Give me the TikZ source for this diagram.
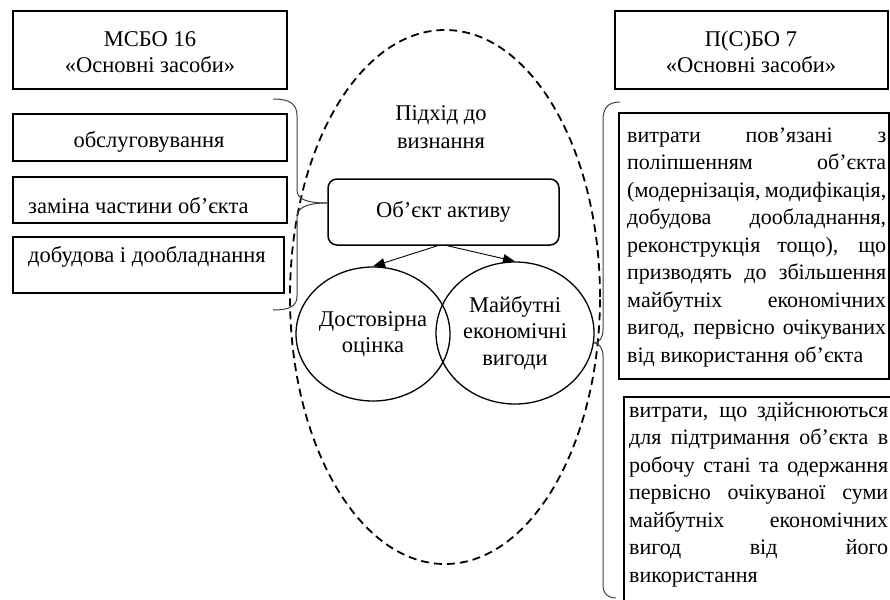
\documentclass[tikz,border=0pt]{standalone}
\usepackage{fontspec}
\setmainfont{Liberation Serif}
\usetikzlibrary{shapes.geometric,arrows.meta}
% one justified line of a fixed-width text block
\newcommand\jline[1]{\hbox to \hsize{#1}}
\begin{document}
\begin{tikzpicture}[x=1pt,y=-1pt,
  box/.style={draw, line width=1.5pt, inner sep=0pt},
  txt/.style={inner sep=0pt, anchor=base, font=\fontsize{22.5}{27.5}\selectfont},
  para/.style={inner sep=0pt, anchor=base west, font=\fontsize{22}{27.5}\selectfont},
  oval/.style={draw, ellipse, line width=1.3pt, inner sep=0pt, align=center,
    font=\fontsize{22.5}{26.5}\selectfont},
  zone/.style={draw, ellipse, line width=1.8pt, dash pattern=on 8pt off 5pt, inner sep=0pt},
  brace/.style={draw=black!75, line width=1pt},
  arr/.style={line width=0.9pt, -{Triangle[length=12pt,width=9pt]}},
]
\useasboundingbox (0,0) rectangle (890,599);

% recognition area
\node[zone, minimum width=310pt, minimum height=534pt] (zone) at (445,297) {};
\node[txt] (zt1) at (441,121) {Підхід до};
\node[txt] (zt2) at (441,148) {визнання};

% IAS 16 side
\node[box, minimum width=274pt, minimum height=78pt] (msbo) at (150,50) {};
\node[txt] (msbo1) at (150,47) {МСБО 16};
\node[txt] (msbo2) at (150,73) {«Основні засоби»};

\node[box, minimum width=274pt, minimum height=47pt] (l1) at (150,137.5) {};
\node[txt] (l1t) at (149,147) {обслуговування};
\node[box, minimum width=274pt, minimum height=46pt] (l2) at (150,200) {};
\node[txt, anchor=base west] (l2t) at (28,213) {заміна частини об’єкта};
\node[box, minimum width=271pt, minimum height=56pt] (l3) at (148.5,265) {};
\node[txt, anchor=base west] (l3t) at (28,262) {добудова і дообладнання};

% central object and its criteria
\node[box, rounded corners=9pt, minimum width=231pt, minimum height=66pt,
  font=\fontsize{22.5}{26.5}\selectfont] (obj) at (443.5,212) {Об’єкт активу};
\node[oval, minimum width=154pt, minimum height=134pt] (dost) at (373,334)
  {Достовірна\\оцінка};
\node[oval, minimum width=158pt, minimum height=142pt] (maib) at (515,333)
  {Майбутні\\економічні\\вигоди};
\draw[arr] ([xshift=-6pt]obj.south) -- (dost.north);
\draw[arr] ([xshift=4pt]obj.south) -- (maib.north);

% national standard side
\node[box, minimum width=273pt, minimum height=78pt] (psbo) at (751.5,50) {};
\node[txt] (psbo1) at (751,47) {П(С)БО 7};
\node[txt] (psbo2) at (751,73) {«Основні засоби»};

\node[box, minimum width=270pt, minimum height=266pt] (r1) at (754,246) {};
\node[para] (r1t) at (627,142) {\parbox[t]{259pt}{%
  \jline{витрати пов’язані з}
  \jline{поліпшенням об’єкта}
  \jline{(модернізація, модифікація,}
  \jline{добудова дообладнання,}
  \jline{реконструкція тощо), що}
  \jline{призводять до збільшення}
  \jline{майбутніх економічних}
  \jline{вигод, первісно очікуваних}
  \hbox{від використання об’єкта}}};

\node[box, minimum width=268pt, minimum height=240pt] (r2) at (758,517) {};
\node[para] (r2t) at (629,417) {\parbox[t]{259pt}{%
  \jline{витрати, що здійснюються}
  \jline{для підтримання об’єкта в}
  \jline{робочу стані та одержання}
  \jline{первісно очікуваної суми}
  \jline{майбутніх економічних}
  \jline{вигод від його}
  \hbox{використання}}};

% braces
\draw[brace] (273,99) .. controls (290,99) and (297,104) .. (297,116) -- (297,190)
  .. controls (297,199) and (306,203) .. ([yshift=9pt]obj.west);
\draw[brace] ([yshift=9pt]obj.west) .. controls (306,203) and (297,208) .. (297,217)
  -- (297,296) .. controls (297,306) and (290,310) .. (273,310);
\draw[brace] (620,102) .. controls (608,102) and (603,108) .. (603,120) -- (603,330)
  .. controls (603,338) and (599,343) .. (maib.-7);
\draw[brace] (maib.-7) .. controls (599,343) and (603,348) .. (603,356) -- (603,585)
  .. controls (603,594) and (608,598) .. (616,598);
\end{tikzpicture}
\end{document}
